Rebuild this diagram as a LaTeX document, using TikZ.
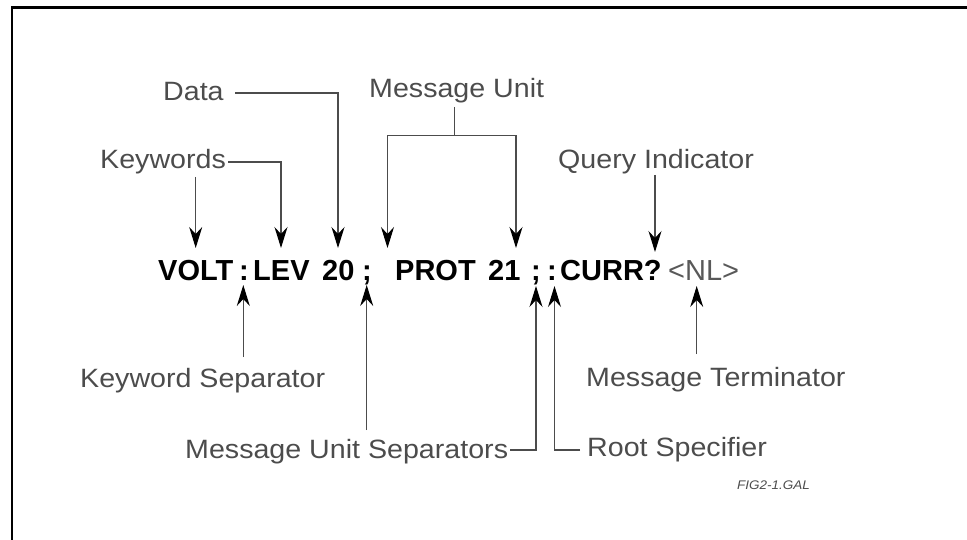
\documentclass[tikz,border=0pt]{standalone}
\usepackage{fontspec}
\setmainfont{Liberation Sans}
\newfontfamily\lblfont[FakeStretch=1.08]{Liberation Sans}
\newfontfamily\cmdfont{Liberation Sans}
\usetikzlibrary{arrows.meta}
\begin{document}
\begin{tikzpicture}[x=1pt,y=-1pt,
  lbl/.style={anchor=base west,inner sep=0pt,text=black!70,font=\lblfont\fontsize{26.5}{30}\selectfont},
  cmd/.style={anchor=base west,inner sep=0pt,text=black,font=\cmdfont\bfseries\fontsize{29}{32}\selectfont},
  sep/.style={anchor=base,inner sep=0pt,text=black,font=\cmdfont\bfseries\fontsize{29}{32}\selectfont},
  thin/.style={anchor=base west,inner sep=0pt,text=black!65,font=\cmdfont\fontsize{29}{32}\selectfont},
  conn/.style={draw=black!70,line width=1.1pt},
  arr/.style={conn,-{Stealth[length=21pt,width=13pt,inset=7pt,color=black]}},
  figtag/.style={anchor=base west,inner sep=0pt,text=black!70,font=\lblfont\itshape\fontsize{12.5}{14}\selectfont}]
\useasboundingbox (0,0) rectangle (967,540);
% frame
\draw[line width=2.6pt,line cap=rect] (12,540) -- (12,7.5) -- (967,7.5);

% command line tokens
\node[cmd] (volt) at (158,280) {VOLT};
\node[sep] (colA) at (244,280) {:};
\node[cmd] (lev) at (253,280) {LEV};
\node[cmd] (twenty) at (322,280) {20};
\node[sep] (semiA) at (367,280) {;};
\node[cmd] (prot) at (395,280) {PROT};
\node[cmd] (twentyone) at (488,280) {21};
\node[sep] (semiB) at (536,280) {;};
\node[sep] (colB) at (552,280) {:};
\node[cmd] (curr) at (560,280) {CURR?};
\node[thin] (nl) at (668,280) {<NL>};

% labels
\node[lbl] (data) at (163,101) {Data};
\node[lbl] (msgunit) at (369,98) {Message Unit};
\node[lbl] (keywords) at (100,168.5) {Keywords};
\node[lbl] (query) at (558,168.5) {Query Indicator};
\node[lbl] (kwsep) at (80,387) {Keyword Separator};
\node[lbl] (msgterm) at (586,386) {Message Terminator};
\node[lbl] (musep) at (185,458) {Message Unit Separators};
\node[lbl] (root) at (587,456) {Root Specifier};
\node[figtag] (fig) at (737,489) {FIG2-1.GAL};

% coordinates
\coordinate (kwA0) at (195.7,177);
\coordinate (kwAt) at (195.7,248);
\coordinate (kwB0) at (228,162);
\coordinate (kwBt) at (281,248);
\coordinate (dt0) at (235,93);
\coordinate (dtt) at (338,248);
\coordinate (mu0) at (454.5,107);
\coordinate (mub) at (454.5,135.5);
\coordinate (muL) at (387.5,248);
\coordinate (muR) at (516,248);
\coordinate (qi0) at (655,175);
\coordinate (qit) at (655,252);
\coordinate (ks0) at (243.3,357);
\coordinate (kst) at (243.3,285);
\coordinate (ms0) at (366.7,430);
\coordinate (mst) at (366.7,285);
\coordinate (ms1) at (510,450);
\coordinate (ms1t) at (536,286);
\coordinate (rs0) at (580,450);
\coordinate (rst) at (554.5,286);
\coordinate (mt0) at (696.7,354);
\coordinate (mtt) at (696.7,286);

% connectors
\draw[arr] (kwA0) -- (kwAt);
\draw[arr] (kwB0) -| (kwBt);
\draw[arr] (dt0) -| (dtt);
\draw[conn] (mu0) -- (mub);
\draw[arr] (mub) -| (muL);
\draw[arr] (mub) -| (muR);
\draw[arr] (qi0) -- (qit);
\draw[arr] (ks0) -- (kst);
\draw[arr] (ms0) -- (mst);
\draw[arr] (ms1) -| (ms1t);
\draw[arr] (rs0) -| (rst);
\draw[arr] (mt0) -- (mtt);
\end{tikzpicture}
\end{document}
